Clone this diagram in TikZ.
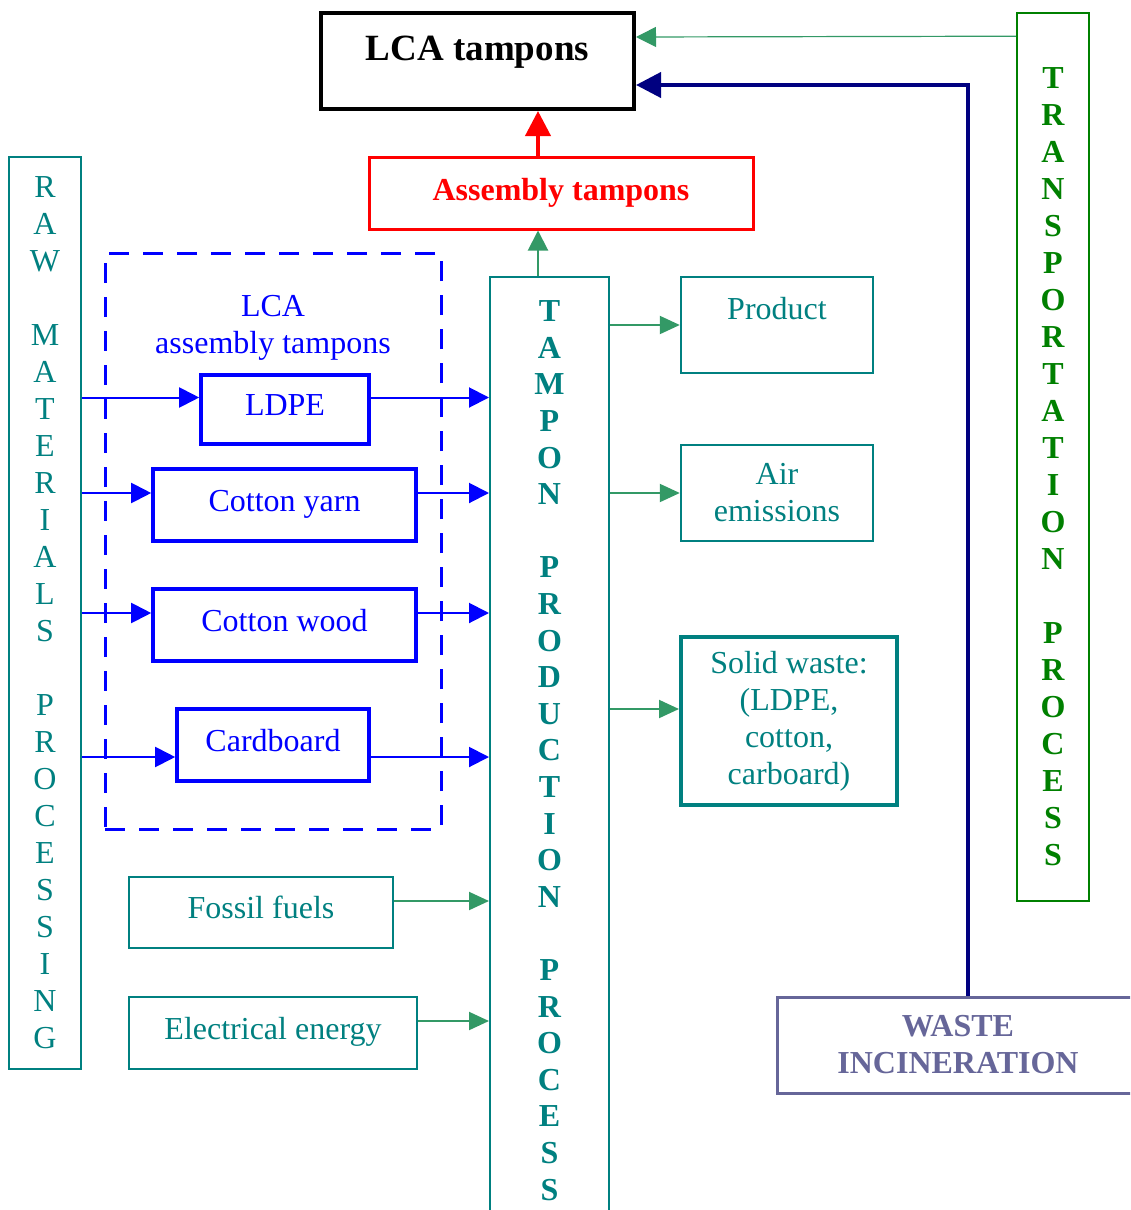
\documentclass[tikz,border=0pt]{standalone}
\usepackage{fontspec}
\setmainfont{Liberation Serif}
\usetikzlibrary{arrows.meta,calc}
\definecolor{tealtxt}{RGB}{0,128,128}
\definecolor{arrowgreen}{RGB}{51,153,102}
\definecolor{transgreen}{RGB}{0,128,0}
\definecolor{navyline}{RGB}{0,0,128}
\definecolor{wastecol}{RGB}{102,102,153}

\begin{document}
\begin{tikzpicture}[x=0.5pt, y=-0.5pt,
    txt/.style={font=\fontsize{16}{18.5}\selectfont, align=center, inner sep=0pt},
    oneline/.style={text height=12pt, text depth=6pt},
    tealbox/.style={txt, draw=tealtxt, text=tealtxt, line width=1pt},
    bluebox/.style={txt, oneline, draw=blue, text=blue, line width=1.8pt},
    bluearrow/.style={draw=blue, line width=1pt, -{Triangle[length=10pt,width=10pt]}},
    greenarrow/.style={draw=arrowgreen, line width=1pt, -{Triangle[length=10pt,width=9pt]}}]
    \useasboundingbox (0,0) rectangle (1130,1210);
    \clip (0,0) rectangle (1130,1210);

    % top boxes
    \node (lca) at (477.5, 61) [txt, draw, line width=2pt, minimum width=156.5pt, minimum height=48pt,
        font=\fontsize{18.5}{22}\selectfont\bfseries, text height=12pt, text depth=12pt] {LCA tampons};
    \node (tampons) at (561, 193) [txt, draw=red, text=red, line width=1.5pt, minimum width=192pt,
        minimum height=36pt, font=\fontsize{16}{18.5}\selectfont\bfseries] {Assembly tampons};

    % raw materials column
    \node (raw) at (45, 613) [tealbox, minimum width=36pt, minimum height=456pt]
        {R\\A\\W\\[18.5pt]M\\A\\T\\E\\R\\I\\A\\L\\S\\[18.5pt]P\\R\\O\\C\\E\\S\\S\\I\\N\\G};

    % assembly group
    \node (group) at (273, 541) [draw=blue, line width=1.5pt, dash pattern=on 10pt off 7pt,
        minimum width=168pt, minimum height=288pt] {};
    \node (grouplabel) at (273, 328) [txt, text=blue] {LCA\\assembly tampons};
    \node (ldpe) at (285, 409.5) [bluebox, minimum width=84pt, minimum height=34.5pt] {LDPE};
    \node (yarn) at (284.5, 505) [bluebox, minimum width=131.5pt, minimum height=36pt] {Cotton yarn};
    \node (wood) at (284.5, 625) [bluebox, minimum width=131.5pt, minimum height=36pt] {Cotton wood};
    \node (card) at (273, 745) [bluebox, minimum width=96pt, minimum height=36pt] {Cardboard};

    % energy inputs
    \node (fossil) at (261, 912.5) [tealbox, oneline, minimum width=132pt, minimum height=35.5pt] {Fossil fuels};
    \node (energy) at (273, 1033) [tealbox, oneline, minimum width=144pt, minimum height=36pt] {Electrical energy};

    % tampon production column
    \node (tpp) at (549.5, 750.5) [tealbox, font=\fontsize{16}{18.3}\selectfont\bfseries,
        minimum width=59.5pt, minimum height=473.5pt]
        {T\\A\\M\\P\\O\\N\\[18.3pt]P\\R\\O\\D\\U\\C\\T\\I\\O\\N\\[18.3pt]P\\R\\O\\C\\E\\S\\S};

    % outputs
    \node (product) at (777, 325) [tealbox, line width=1.2pt, minimum width=96pt, minimum height=48pt,
        text height=8pt, text depth=14pt] {Product};
    \node (air) at (777, 493) [tealbox, line width=1.2pt, minimum width=96pt, minimum height=48pt] {Air\\emissions};
    \node (solid) at (789, 721) [tealbox, line width=2pt, minimum width=108pt, minimum height=84pt]
        {Solid waste:\\(LDPE,\\cotton,\\carboard)};

    % transportation and waste
    \node (trans) at (1053, 457) [draw=transgreen, line width=0.8pt, minimum width=36pt, minimum height=444pt] {};
    \node (translabel) at (1053, 467) [txt, text=transgreen, font=\fontsize{16}{18.5}\selectfont\bfseries]
        {T\\R\\A\\N\\S\\P\\O\\R\\T\\A\\T\\I\\O\\N\\[18.5pt]P\\R\\O\\C\\E\\S\\S};
    \node (waste) at (958, 1045) [txt, draw=wastecol, text=wastecol, line width=1.5pt,
        font=\fontsize{16}{18.5}\selectfont\bfseries, minimum width=181pt, minimum height=48pt]
        {WASTE\\INCINERATION};

    % raw materials into assembly
    \draw[bluearrow] ($(raw.east |- ldpe.west)+(0,-12)$) -- ($(ldpe.west)+(0,-12)$);
    \draw[bluearrow] ($(raw.east |- yarn.west)+(0,-12)$) -- ($(yarn.west)+(0,-12)$);
    \draw[bluearrow] ($(raw.east |- wood.west)+(0,-12)$) -- ($(wood.west)+(0,-12)$);
    \draw[bluearrow] ($(raw.east |- card.west)+(0,12)$) -- ($(card.west)+(0,12)$);

    % assembly into production
    \draw[bluearrow] ($(ldpe.east)+(0,-12)$) -- ($(tpp.west |- ldpe.east)+(0,-12)$);
    \draw[bluearrow] ($(yarn.east)+(0,-12)$) -- ($(tpp.west |- yarn.east)+(0,-12)$);
    \draw[bluearrow] ($(wood.east)+(0,-12)$) -- ($(tpp.west |- wood.east)+(0,-12)$);
    \draw[bluearrow] ($(card.east)+(0,12)$) -- ($(tpp.west |- card.east)+(0,12)$);
    \draw[greenarrow] ($(fossil.east)+(0,-11.5)$) -- ($(tpp.west |- fossil.east)+(0,-11.5)$);
    \draw[greenarrow] ($(energy.east)+(0,-12)$) -- ($(tpp.west |- energy.east)+(0,-12)$);

    % production outputs
    \draw[greenarrow] (tpp.east |- product.west) -- (product.west);
    \draw[greenarrow] (tpp.east |- air.west) -- (air.west);
    \draw[greenarrow] ($(tpp.east |- solid.west)+(0,-12)$) -- ($(solid.west)+(0,-12)$);

    % upward chain
    \draw[greenarrow, -{Triangle[length=10pt,width=10pt]}] ($(tpp.north)+(-11.5,0)$) -- ($(tampons.south)+(-23,0)$);
    \draw[draw=red, line width=2pt, -{Triangle[length=12.5pt,width=12.5pt]}] ($(tampons.north)+(-23,0)$) -- ($(lca.south)+(60.5,0)$);

    % side inputs to LCA
    \draw[draw=arrowgreen, line width=0.6pt, -{Triangle[length=10pt,width=10pt]}] ($(trans.north west)+(0,24)$) -- ($(lca.east)+(0,-24)$);
    \draw[draw=navyline, line width=2pt, -{Triangle[length=12.5pt,width=12.5pt]}] ($(waste.north)+(10,0)$) |- ($(lca.east)+(0,24)$);
\end{tikzpicture}
\end{document}
